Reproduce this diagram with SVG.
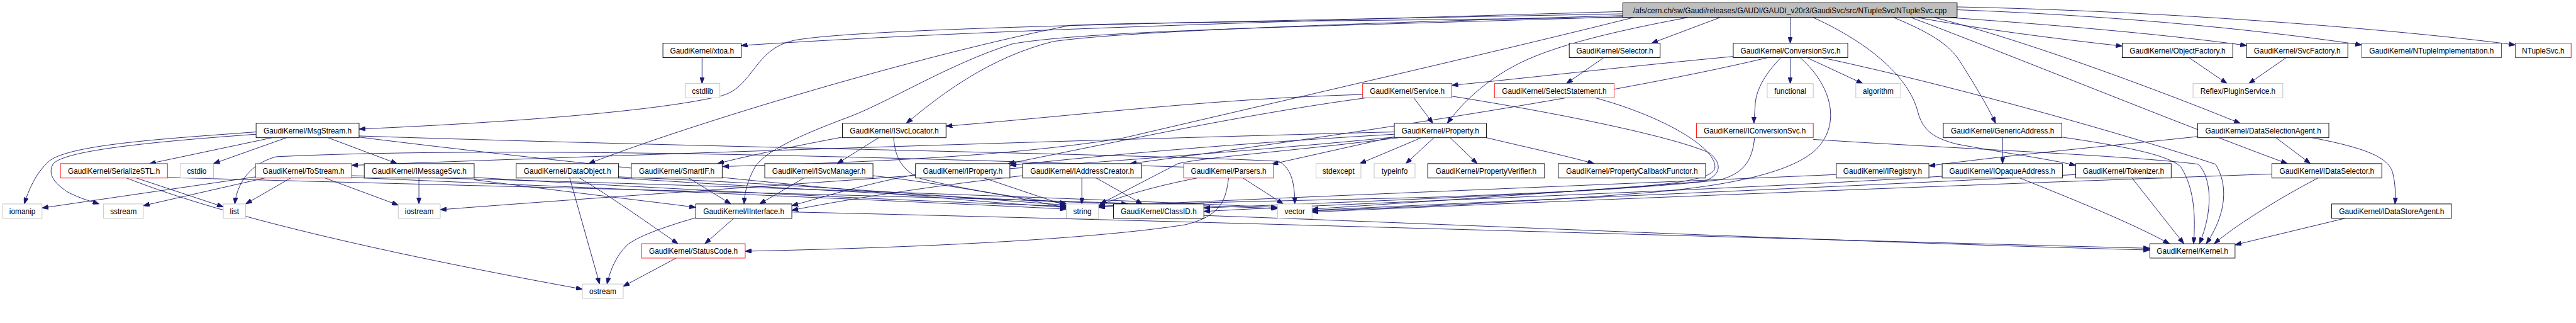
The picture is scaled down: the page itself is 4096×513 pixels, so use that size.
<svg xmlns="http://www.w3.org/2000/svg" width="4096" height="513" viewBox="0 0 4096 513">
<style>
.n{fill:#fff;stroke:#000;stroke-width:1}
.r{fill:#fff;stroke:#f00;stroke-width:1}
.g{fill:#fff;stroke:#bfbfbf;stroke-width:1}
.rt{fill:#bfbfbf;stroke:#000;stroke-width:1}
text{font-family:"Liberation Sans",Arial,sans-serif;font-size:13px;text-anchor:middle;fill:#000}
.e path{fill:none;stroke:#191970;stroke-width:1;marker-end:url(#a)}
</style>
<defs>
<marker id="a" markerWidth="11" markerHeight="8" refX="11" refY="4" orient="auto" markerUnits="userSpaceOnUse"><path d="M0,0 L11,4 L0,8 z" fill="#191970" stroke="#191970" stroke-width="1"/></marker>
</defs>
<rect width="4096" height="513" fill="#fff"/>
<g transform="scale(0.915)">
<g id="connectors" class="e">
<path d="M2820,20 C2300,35 1700,52 1288,79"/>
<path d="M2820,24 C2100,38 1500,48 1380,70 C1310,85 1310,150 1255,166 C1150,192 900,212 624,224"/>
<path d="M2822,27 C2300,42 1950,55 1830,72 C1720,100 1640,160 1575,214"/>
<path d="M2826,29 C2300,46 1900,52 1760,76 C1650,110 1540,180 1470,205 C1390,235 1330,262 1312,290 C1298,315 1294,335 1293,354"/>
<path d="M2826,30 C2400,36 2000,38 1860,44 C1600,95 1200,215 1023,284"/>
<path d="M2840,30 C2600,90 2250,170 1950,240 C1750,272 1500,282 1256,289"/>
<path d="M2990,30 L2870,75"/>
<path d="M3111,30 L3111,75"/>
<path d="M3330,30 C3450,52 3580,68 3688,80"/>
<path d="M3380,30 C3600,45 3780,62 3904,79"/>
<path d="M3401,17 C3700,28 3950,55 4104,78"/>
<path d="M3401,12 C3800,20 4200,55 4371,78"/>
<path d="M3290,30 C3350,55 3385,75 3405,105 C3430,145 3452,180 3468,214"/>
<path d="M3150,30 C3250,75 3318,135 3333,195 C3342,228 3362,240 3400,250 C3480,265 3560,276 3607,287"/>
<path d="M3360,30 C3520,70 3760,160 3893,214"/>
<path d="M3320,30 C3480,90 3800,220 3975,284"/>
<path d="M2935,30 C2800,55 2700,80 2640,110 C2580,140 2540,180 2515,214"/>
<path d="M1220,100 L1220,145"/>
<path d="M2787,100 L2722,145"/>
<path d="M3012,98 C2800,118 2650,136 2523,148"/>
<path d="M3111,100 L3111,145"/>
<path d="M3140,100 L3237,145"/>
<path d="M3095,100 C3065,130 3050,160 3050,185 C3049,200 3048,207 3048,214"/>
<path d="M3128,100 C3180,145 3200,210 3160,255 C3120,300 3000,322 2880,333 C2700,348 2450,360 2280,366"/>
<path d="M3072,100 C2800,165 2300,240 1964,284"/>
<path d="M3166,100 C3400,150 3700,235 3850,285 C3872,320 3870,370 3834,423"/>
<path d="M3804,100 L3870,145"/>
<path d="M3973,100 L3908,145"/>
<path d="M2773,170 C2900,205 2985,260 2980,292 C2975,322 2800,330 2500,342 C2200,350 2000,352 1909,360"/>
<path d="M2457,170 L2490,214"/>
<path d="M2368,164 C2100,172 1900,198 1644,219"/>
<path d="M2373,170 C2150,200 1900,255 1752,284"/>
<path d="M2523,167 C2700,195 2900,235 2970,265 C2995,285 2990,305 2960,315 C2700,335 2400,355 2280,363"/>
<path d="M2470,239 L2363,284"/>
<path d="M2492,239 L2443,284"/>
<path d="M2520,239 L2567,284"/>
<path d="M2583,239 C2650,255 2720,270 2770,284"/>
<path d="M2425,237 L2210,285"/>
<path d="M2423,229 C1800,245 1000,272 611,287"/>
<path d="M2423,233 C2100,252 1900,272 1755,287"/>
<path d="M2430,239 C2250,262 2100,272 2047,284 L1912,354"/>
<path d="M2423,238 C2000,280 1200,330 765,364"/>
<path d="M2135,309 C2130,350 2120,375 2060,390 C1900,415 1600,430 1295,436"/>
<path d="M2080,309 C2000,325 1950,340 1909,357"/>
<path d="M2160,309 L2230,354"/>
<path d="M2057,290 C1600,275 900,252 480,272 C432,285 412,320 408,354"/>
<path d="M473,239 L260,284"/>
<path d="M498,239 L371,284"/>
<path d="M570,239 L690,284"/>
<path d="M445,229 C300,240 120,250 85,280 C62,300 50,330 42,354"/>
<path d="M445,233 C280,245 110,260 92,285 C84,300 90,315 117,333 C140,345 160,350 172,354"/>
<path d="M624,238 C1000,285 1600,345 1853,360"/>
<path d="M624,236 C1200,255 2000,268 2222,280 C2245,292 2250,320 2250,354"/>
<path d="M237,309 L388,359"/>
<path d="M220,309 C400,380 700,445 1012,502"/>
<path d="M291,308 C900,325 1800,345 2220,362"/>
<path d="M444,307 L73,361"/>
<path d="M460,309 L249,357"/>
<path d="M505,309 L427,354"/>
<path d="M565,309 L692,356"/>
<path d="M611,308 C1000,325 1600,350 1853,363"/>
<path d="M611,305 C1200,320 1900,345 2220,360"/>
<path d="M728,309 L728,354"/>
<path d="M824,312 C1000,335 1150,352 1209,360"/>
<path d="M824,308 C1200,330 1600,350 1853,358"/>
<path d="M990,309 L1042,493"/>
<path d="M1007,309 C1060,340 1130,390 1178,423"/>
<path d="M1075,309 C1400,330 1800,350 1960,354"/>
<path d="M1075,307 C1400,320 1700,345 1853,356"/>
<path d="M1197,309 L1270,354"/>
<path d="M1397,309 L1320,354"/>
<path d="M1517,305 C1650,320 1780,345 1853,361"/>
<path d="M1527,239 L1455,284"/>
<path d="M1464,238 C1400,250 1300,270 1247,284"/>
<path d="M1553,239 C1555,270 1565,295 1600,310 C1680,330 1780,345 1853,353"/>
<path d="M1591,303 C1500,320 1420,345 1376,357"/>
<path d="M1710,309 L1853,357"/>
<path d="M1880,309 L1880,354"/>
<path d="M1905,309 L1985,354"/>
<path d="M1777,305 C1600,325 1450,350 1376,365"/>
<path d="M3049,239 C3045,280 3030,300 2990,312 C2800,335 2300,352 2092,361"/>
<path d="M3151,242 C3400,258 3700,270 3820,285 C3845,310 3845,370 3822,423"/>
<path d="M3191,303 C2800,320 2300,340 1909,358"/>
<path d="M3375,306 C3000,330 2400,350 2092,367"/>
<path d="M3510,309 C3600,345 3700,385 3770,423"/>
<path d="M3705,309 L3795,423"/>
<path d="M3607,303 C3300,320 2700,345 2280,365"/>
<path d="M3948,302 C3500,318 2800,345 2280,368"/>
<path d="M4028,309 C3950,350 3880,395 3848,423"/>
<path d="M3955,239 L4015,284"/>
<path d="M4018,239 C4100,255 4150,270 4158,300 C4163,320 4163,340 4162,354"/>
<path d="M3819,237 C3700,250 3500,268 3352,288"/>
<path d="M4075,379 L3884,425"/>
<path d="M3480,239 L3480,284"/>
<path d="M3583,238 C3700,255 3770,270 3790,290 C3815,330 3815,380 3812,423"/>
<path d="M1275,379 L1225,423"/>
<path d="M1209,378 C1150,395 1110,410 1090,425 C1070,445 1060,470 1055,493"/>
<path d="M1376,368 C2000,382 3000,412 3736,431"/>
<path d="M2092,374 C2600,392 3200,420 3736,434"/>
<path d="M1175,448 L1083,497"/>
</g>
<g id="root"><rect class="rt" x="2820" y="5" width="581" height="25"/><text x="3110.5" y="22.5">/afs/cern.ch/sw/Gaudi/releases/GAUDI/GAUDI_v20r3/GaudiSvc/src/NTupleSvc/NTupleSvc.cpp</text></g>
<g id="xtoa"><rect class="n" x="1152" y="75" width="136" height="25"/><text x="1220" y="92.5">GaudiKernel/xtoa.h</text></g>
<g id="Selector"><rect class="n" x="2727" y="75" width="158" height="25"/><text x="2806" y="92.5">GaudiKernel/Selector.h</text></g>
<g id="ConversionSvc"><rect class="n" x="3012" y="75" width="199" height="25"/><text x="3111.5" y="92.5">GaudiKernel/ConversionSvc.h</text></g>
<g id="ObjectFactory"><rect class="n" x="3688" y="75" width="192" height="25"/><text x="3784" y="92.5">GaudiKernel/ObjectFactory.h</text></g>
<g id="SvcFactory"><rect class="n" x="3904" y="75" width="176" height="25"/><text x="3992" y="92.5">GaudiKernel/SvcFactory.h</text></g>
<g id="NTupleImplementation"><rect class="r" x="4104" y="75" width="243" height="25"/><text x="4225.5" y="92.5">GaudiKernel/NTupleImplementation.h</text></g>
<g id="NTupleSvc"><rect class="r" x="4371" y="75" width="97" height="25"/><text x="4419.5" y="92.5">NTupleSvc.h</text></g>
<g id="cstdlib"><rect class="g" x="1191" y="145" width="60" height="25"/><text x="1221" y="162.5">cstdlib</text></g>
<g id="SelectStatement"><rect class="r" x="2597" y="145" width="208" height="25"/><text x="2701" y="162.5">GaudiKernel/SelectStatement.h</text></g>
<g id="Service"><rect class="r" x="2368" y="145" width="155" height="25"/><text x="2445.5" y="162.5">GaudiKernel/Service.h</text></g>
<g id="functional"><rect class="g" x="3071" y="145" width="80" height="25"/><text x="3111" y="162.5">functional</text></g>
<g id="algorithm"><rect class="g" x="3225" y="145" width="78" height="25"/><text x="3264" y="162.5">algorithm</text></g>
<g id="PluginService"><rect class="g" x="3811" y="145" width="156" height="25"/><text x="3889" y="162.5">Reflex/PluginService.h</text></g>
<g id="MsgStream"><rect class="n" x="445" y="214" width="179" height="25"/><text x="534.5" y="231.5">GaudiKernel/MsgStream.h</text></g>
<g id="ISvcLocator"><rect class="n" x="1464" y="214" width="180" height="25"/><text x="1554" y="231.5">GaudiKernel/ISvcLocator.h</text></g>
<g id="Property"><rect class="n" x="2423" y="214" width="160" height="25"/><text x="2503" y="231.5">GaudiKernel/Property.h</text></g>
<g id="IConversionSvc"><rect class="r" x="2948" y="214" width="203" height="25"/><text x="3049.5" y="231.5">GaudiKernel/IConversionSvc.h</text></g>
<g id="GenericAddress"><rect class="n" x="3377" y="214" width="206" height="25"/><text x="3480" y="231.5">GaudiKernel/GenericAddress.h</text></g>
<g id="DataSelectionAgent"><rect class="n" x="3819" y="214" width="228" height="25"/><text x="3933" y="231.5">GaudiKernel/DataSelectionAgent.h</text></g>
<g id="SerializeSTL"><rect class="r" x="105" y="284" width="186" height="25"/><text x="198" y="301.5">GaudiKernel/SerializeSTL.h</text></g>
<g id="cstdio"><rect class="g" x="313" y="284" width="58" height="25"/><text x="342" y="301.5">cstdio</text></g>
<g id="ToStream"><rect class="r" x="444" y="284" width="167" height="25"/><text x="527.5" y="301.5">GaudiKernel/ToStream.h</text></g>
<g id="IMessageSvc"><rect class="n" x="633" y="284" width="191" height="25"/><text x="728.5" y="301.5">GaudiKernel/IMessageSvc.h</text></g>
<g id="DataObject"><rect class="n" x="897" y="284" width="178" height="25"/><text x="986" y="301.5">GaudiKernel/DataObject.h</text></g>
<g id="SmartIF"><rect class="n" x="1097" y="284" width="158" height="25"/><text x="1176" y="301.5">GaudiKernel/SmartIF.h</text></g>
<g id="ISvcManager"><rect class="n" x="1329" y="284" width="188" height="25"/><text x="1423" y="301.5">GaudiKernel/ISvcManager.h</text></g>
<g id="IProperty"><rect class="n" x="1591" y="284" width="164" height="25"/><text x="1673" y="301.5">GaudiKernel/IProperty.h</text></g>
<g id="IAddressCreator"><rect class="n" x="1777" y="284" width="207" height="25"/><text x="1880.5" y="301.5">GaudiKernel/IAddressCreator.h</text></g>
<g id="Parsers"><rect class="r" x="2057" y="284" width="156" height="25"/><text x="2135" y="301.5">GaudiKernel/Parsers.h</text></g>
<g id="stdexcept"><rect class="g" x="2287" y="284" width="78" height="25"/><text x="2326" y="301.5">stdexcept</text></g>
<g id="typeinfo"><rect class="g" x="2388" y="284" width="71" height="25"/><text x="2423.5" y="301.5">typeinfo</text></g>
<g id="PropertyVerifier"><rect class="n" x="2481" y="284" width="203" height="25"/><text x="2582.5" y="301.5">GaudiKernel/PropertyVerifier.h</text></g>
<g id="PropertyCallbackFunctor"><rect class="n" x="2708" y="284" width="256" height="25"/><text x="2836" y="301.5">GaudiKernel/PropertyCallbackFunctor.h</text></g>
<g id="IRegistry"><rect class="n" x="3191" y="284" width="161" height="25"/><text x="3271.5" y="301.5">GaudiKernel/IRegistry.h</text></g>
<g id="IOpaqueAddress"><rect class="n" x="3375" y="284" width="209" height="25"/><text x="3479.5" y="301.5">GaudiKernel/IOpaqueAddress.h</text></g>
<g id="Tokenizer"><rect class="n" x="3607" y="284" width="166" height="25"/><text x="3690" y="301.5">GaudiKernel/Tokenizer.h</text></g>
<g id="IDataSelector"><rect class="n" x="3948" y="284" width="191" height="25"/><text x="4043.5" y="301.5">GaudiKernel/IDataSelector.h</text></g>
<g id="iomanip"><rect class="g" x="5" y="354" width="68" height="25"/><text x="39" y="371.5">iomanip</text></g>
<g id="sstream"><rect class="g" x="180" y="354" width="69" height="25"/><text x="214.5" y="371.5">sstream</text></g>
<g id="list"><rect class="g" x="388" y="354" width="39" height="25"/><text x="407.5" y="371.5">list</text></g>
<g id="iostream"><rect class="g" x="692" y="354" width="73" height="25"/><text x="728.5" y="371.5">iostream</text></g>
<g id="IInterface"><rect class="n" x="1209" y="354" width="167" height="25"/><text x="1292.5" y="371.5">GaudiKernel/IInterface.h</text></g>
<g id="string"><rect class="g" x="1853" y="354" width="56" height="25"/><text x="1881" y="371.5">string</text></g>
<g id="ClassID"><rect class="n" x="1935" y="354" width="157" height="25"/><text x="2013.5" y="371.5">GaudiKernel/ClassID.h</text></g>
<g id="vector"><rect class="g" x="2220" y="354" width="60" height="25"/><text x="2250" y="371.5">vector</text></g>
<g id="IDataStoreAgent"><rect class="n" x="4052" y="354" width="208" height="25"/><text x="4156" y="371.5">GaudiKernel/IDataStoreAgent.h</text></g>
<g id="StatusCode"><rect class="r" x="1115" y="423" width="180" height="25"/><text x="1205" y="440.5">GaudiKernel/StatusCode.h</text></g>
<g id="Kernel"><rect class="n" x="3736" y="423" width="148" height="25"/><text x="3810" y="440.5">GaudiKernel/Kernel.h</text></g>
<g id="ostream"><rect class="g" x="1012" y="493" width="71" height="25"/><text x="1047.5" y="510.5">ostream</text></g>
</g>
</svg>
